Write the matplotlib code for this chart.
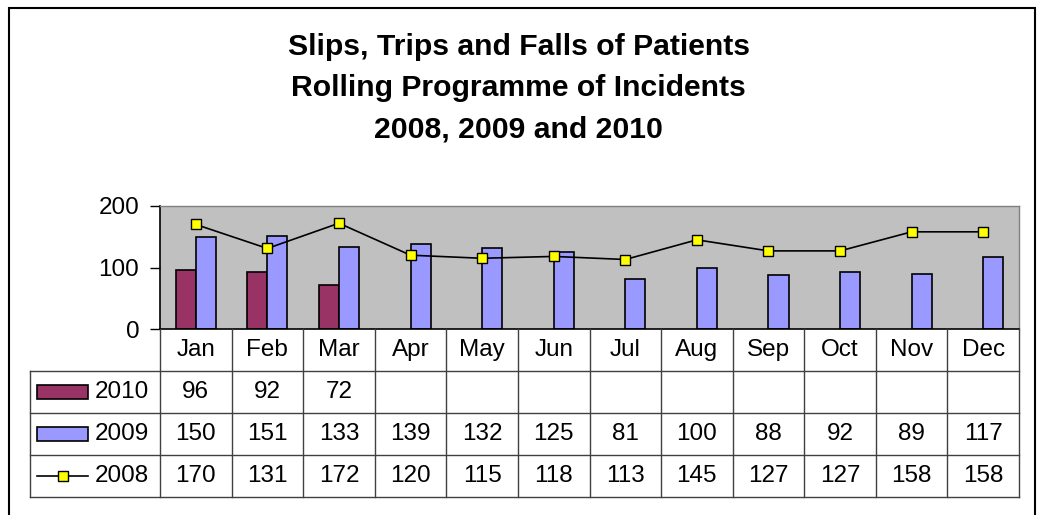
import matplotlib
matplotlib.use("Agg")
import matplotlib.pyplot as plt
from matplotlib.patches import Rectangle
import numpy as np

months = ["Jan", "Feb", "Mar", "Apr", "May", "Jun", "Jul", "Aug", "Sep", "Oct", "Nov", "Dec"]
s2010 = [96, 92, 72]
s2009 = [150, 151, 133, 139, 132, 125, 81, 100, 88, 92, 89, 117]
s2008 = [170, 131, 172, 120, 115, 118, 113, 145, 127, 127, 158, 158]
series_names = ["2010", "2009", "2008"]
title_lines = ["Slips, Trips and Falls of Patients", "Rolling Programme of Incidents", "2008, 2009 and 2010"]
yticks = [0, 100, 200]

c2010 = "#993366"
c2009 = "#9999FF"
cbg = "#C0C0C0"
cmark = "#FFFF00"

plt.rcParams["font.family"] = ["Liberation Sans", "DejaVu Sans"]

W, H = 1037, 515
fig = plt.figure(figsize=(W / 100, H / 100), dpi=100)

def fx(px):
    return px / W

def fy(py):
    return 1 - py / H

# outer border
fig.patches.append(Rectangle((fx(8.5), fy(530)), fx(1034.5) - fx(8.5), fy(7.5) - fy(530),
                             transform=fig.transFigure, fill=False, edgecolor="black", linewidth=1.5))

# title
fig.text(0.5, fy(88), "\n".join(title_lines), ha="center", va="center",
         fontsize=21.7, fontweight="bold", linespacing=1.6)

# main plot axes
L, R, T, B = 160, 1019, 206, 329
ax = fig.add_axes([fx(L), fy(B), fx(R) - fx(L), fy(T) - fy(B)])
ax.set_facecolor(cbg)
n = len(months)
x = np.arange(n)
bw = 0.28
ax.bar(np.arange(len(s2010)) - bw / 2, s2010, width=bw, color=c2010, edgecolor="black", linewidth=1.2, zorder=2)
ax.bar(x + bw / 2, s2009, width=bw, color=c2009, edgecolor="black", linewidth=1.2, zorder=2)
ax.plot(x, s2008, color="black", linewidth=1.2, marker="s", markersize=7,
        markerfacecolor=cmark, markeredgecolor="black", markeredgewidth=1.0, zorder=3)
ax.set_xlim(-0.5, n - 0.5)
ax.set_ylim(0, 200)
ax.set_yticks(yticks)
ax.set_yticklabels([str(v) for v in yticks], fontsize=17.5)
ax.tick_params(axis="y", length=7, width=1, pad=8, direction="out")
ax.set_xticks([])
for s in ["top", "right"]:
    ax.spines[s].set_color("#808080")
    ax.spines[s].set_linewidth(1)
for s in ["left", "bottom"]:
    ax.spines[s].set_color("black")
    ax.spines[s].set_linewidth(1.2)

# data table axes
TL, TB = 30, 497
unit = (R - L) / n
xmin_t = -0.5 - (L - TL) / unit
tax = fig.add_axes([fx(TL), fy(TB), fx(R) - fx(TL), fy(B) - fy(TB)])
tax.set_xlim(xmin_t, n - 0.5)
tax.set_ylim(4, 0)
tax.axis("off")

def px2x(px):
    return -0.5 + (px - L) / unit

gc = "#404040"
lw = 1.0
for r in [1, 2, 3, 4]:
    tax.plot([xmin_t, n - 0.5], [r, r], color=gc, linewidth=lw, clip_on=False)
for i in range(n + 1):
    tax.plot([i - 0.5, i - 0.5], [0, 4], color=gc, linewidth=lw, clip_on=False)
tax.plot([xmin_t, xmin_t], [1, 4], color=gc, linewidth=lw, clip_on=False)

fs = 17.5
for i, m in enumerate(months):
    tax.text(i, 0.5, m, ha="center", va="center", fontsize=fs)
rows = [s2010, s2009, s2008]
for r, vals in enumerate(rows):
    for i, v in enumerate(vals):
        tax.text(i, r + 1.5, str(v), ha="center", va="center", fontsize=fs)

# legend keys
kx0, kx1 = px2x(37), px2x(88)
tax.add_patch(Rectangle((kx0, 1.5 - 0.17), kx1 - kx0, 0.34, facecolor=c2010, edgecolor="black", linewidth=1.2))
tax.add_patch(Rectangle((kx0, 2.5 - 0.17), kx1 - kx0, 0.34, facecolor=c2009, edgecolor="black", linewidth=1.2))
tax.plot([kx0, kx1], [3.5, 3.5], color="black", linewidth=1.2)
tax.plot([(kx0 + kx1) / 2], [3.5], marker="s", markersize=7, markerfacecolor=cmark,
         markeredgecolor="black", markeredgewidth=1.0)
for r, name in enumerate(series_names):
    tax.text(px2x(95), r + 1.5, name, ha="left", va="center", fontsize=fs)

fig.savefig("out.png", dpi=100)
